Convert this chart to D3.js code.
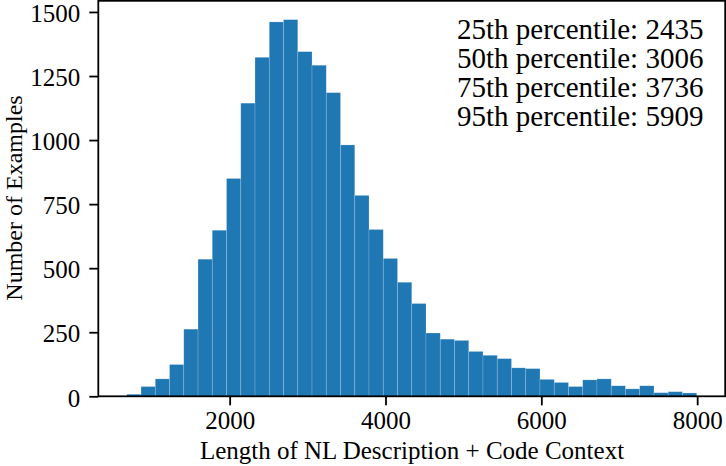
<!DOCTYPE html>
<html>
<head>
<meta charset="utf-8">
<script src="https://cdn.jsdelivr.net/npm/d3@7"></script>
<style>
  html, body { margin: 0; padding: 0; background: #fff; }
</style>
</head>
<body>
<svg id="chart" width="726" height="466"></svg>
<script>
// Histogram: 40 equal bins of the length of NL description + code context
const binStart = 680;
const binEnd = 7994;
const counts = [
  8, 38, 68, 124, 262, 535, 648, 850, 1144, 1323,
  1461, 1470, 1345, 1292, 1185, 981, 784, 651, 538, 445,
  362, 247, 223, 218, 175, 160, 147, 111, 108, 66,
  54, 38, 64, 68, 41, 29, 41, 14, 18, 13
];
const xTicks = [2000, 4000, 6000, 8000];
const yTicks = [0, 250, 500, 750, 1000, 1250, 1500];
const percentileLabels = ["25th", "50th", "75th", "95th"];
const percentileValues = [2435, 3006, 3736, 5909];
const xLabel = "Length of NL Description + Code Context";
const yLabel = "Number of Examples";

const FONT = "'Liberation Serif', 'Times New Roman', Times, 'DejaVu Serif', serif";

const nBins = counts.length;
const binW = (binEnd - binStart) / nBins;
const bins = counts.map((c, i) => ({ x0: binStart + i * binW, x1: binStart + (i + 1) * binW, n: c }));

const svg = d3.select("#chart");
const L = 98.3, R = 725.2, T = 0.8, B = 396.3;

const span = binEnd - binStart;
const x = d3.scaleLinear().domain([binStart - 0.05 * span, binEnd + 0.05 * span]).range([L, R]);
const yMax = d3.max(counts) * 1.05;
const y = d3.scaleLinear().domain([0, yMax]).range([B, T]);

// bars
svg.append("g").selectAll("rect").data(bins).join("rect")
  .attr("x", d => x(d.x0))
  .attr("y", d => y(d.n))
  .attr("width", d => x(d.x1) - x(d.x0))
  .attr("height", d => y(0) - y(d.n))
  .attr("fill", "#1f77b4")
  .attr("stroke", "rgba(255,255,255,0.25)")
  .attr("stroke-width", 0.7);

// axes
const tickFont = 25;
const xAxis = d3.axisBottom(x).tickValues(xTicks).tickSize(9).tickPadding(6).tickFormat(d3.format("d"));
const gx = svg.append("g").attr("transform", `translate(0,${B})`).call(xAxis)
  .attr("font-family", FONT).attr("font-size", tickFont);
gx.select(".domain").remove();
gx.selectAll(".tick line").attr("stroke", "#000").attr("stroke-width", 1.8);
gx.selectAll(".tick text").attr("fill", "#000");

const yAxis = d3.axisLeft(y).tickValues(yTicks).tickSize(9).tickPadding(9).tickFormat(d3.format("d"));
const gy = svg.append("g").attr("transform", `translate(${L},0)`).call(yAxis)
  .attr("font-family", FONT).attr("font-size", tickFont);
gy.select(".domain").remove();
gy.selectAll(".tick line").attr("stroke", "#000").attr("stroke-width", 1.8);
gy.selectAll(".tick text").attr("fill", "#000").attr("dy", "0.39em");

// frame
svg.append("rect").attr("x", L).attr("y", T).attr("width", R - L).attr("height", B - T)
  .attr("fill", "none").attr("stroke", "#000").attr("stroke-width", 1.8);

// labels
svg.append("text").attr("x", 412).attr("y", 459).attr("text-anchor", "middle")
  .attr("font-family", FONT).attr("font-size", 25).text(xLabel);
svg.append("text").attr("transform", `translate(21.5,198) rotate(-90)`).attr("text-anchor", "middle")
  .attr("font-family", FONT).attr("font-size", 24).text(yLabel);

// percentile annotations
svg.append("g").selectAll("text").data(percentileLabels).join("text")
  .attr("x", 457)
  .attr("y", (d, i) => 39 + i * 29)
  .attr("font-family", FONT)
  .attr("font-size", 29)
  .text((d, i) => `${d} percentile: ${percentileValues[i]}`);
</script>
</body>
</html>
